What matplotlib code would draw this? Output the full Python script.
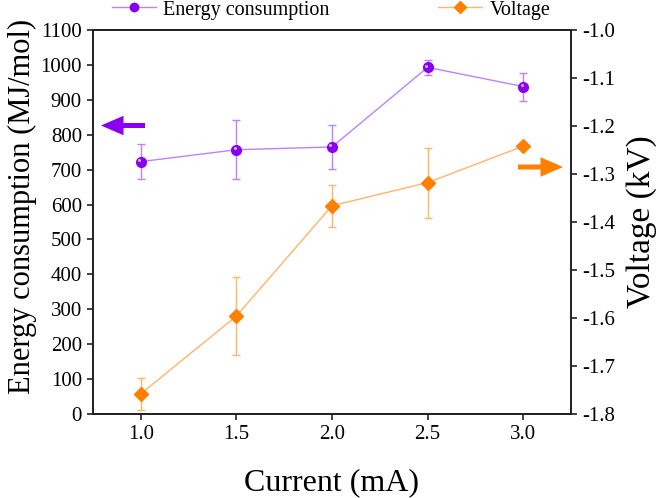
import matplotlib
matplotlib.use("Agg")
import matplotlib.pyplot as plt
from matplotlib.lines import Line2D
from matplotlib.transforms import ScaledTranslation

plt.rcParams['font.family'] = ['Liberation Serif', 'DejaVu Serif']

current = [1.0, 1.5, 2.0, 2.5, 3.0]
energy = [723, 757, 765, 993, 938]
energy_err = [50, 85, 62, 22, 40]
voltage = [-1.758, -1.596, -1.366, -1.318, -1.242]
voltage_err = [0.033, 0.081, 0.044, 0.073, 0.0]

xticks = [1.0, 1.5, 2.0, 2.5, 3.0]
lyticks = list(range(0, 1101, 100))
ryticks = [-1.0, -1.1, -1.2, -1.3, -1.4, -1.5, -1.6, -1.7, -1.8]

purple = '#8A00F0'
purple_l = '#BF80FF'
orange = '#FF8000'
orange_l = '#FFB566'

fig = plt.figure(figsize=(6.61, 4.98), dpi=100)
ax = fig.add_axes([93/661, 1-414/498, (571-93)/661, (414-30)/498])
ax2 = ax.twinx()

ax.errorbar(current, energy, yerr=energy_err, color=purple_l, lw=1.0,
            marker='o', ms=7, mfc=purple, mec=purple, ecolor=purple_l,
            elinewidth=1.0, capsize=3, capthick=1.0, zorder=3)
# small highlight on the ball markers
hl = ax.transData + ScaledTranslation(-1.2/72, 1.2/72, fig.dpi_scale_trans)
ax.plot(current, energy, 'o', ms=2.2, color='#D9A6FF', mec='none',
        transform=hl, zorder=4)
ax2.errorbar(current, voltage, yerr=voltage_err, color=orange_l, lw=1.0,
             marker='D', ms=7.5, mfc=orange, mec=orange, ecolor=orange_l,
             elinewidth=1.0, capsize=3, capthick=1.0, zorder=3)

ax.set_xlim(0.75, 3.25)
ax.set_ylim(0, 1100)
ax2.set_ylim(-1.8, -1.0)
ax.set_xticks(xticks)
ax.set_xticklabels([f'{v:.1f}' for v in xticks])
ax.set_yticks(lyticks)
ax2.set_yticks(ryticks)
ax2.set_yticklabels([f'{v:.1f}' for v in ryticks])

for a in (ax, ax2):
    a.tick_params(direction='out', length=4.5, width=1.2, labelsize=15,
                  pad=3.5, color='#222222')
    for s in a.spines.values():
        s.set_linewidth(1.3)
        s.set_color('#222222')

ax.set_xlabel('Current (mA)', fontsize=23, labelpad=17)
ax.set_ylabel('Energy consumption (MJ/mol)', fontsize=22)
ax.yaxis.set_label_coords(-0.118, 0.54)
ax2.set_ylabel('Voltage (kV)', fontsize=24, labelpad=8)

# direction arrows
arrow_style = 'simple,head_length=0.9,head_width=0.78,tail_width=0.2'
ax.annotate('', xy=(101/661, 1-125.5/498), xytext=(145/661, 1-125.5/498),
            xycoords='figure fraction', textcoords='figure fraction',
            arrowprops=dict(arrowstyle=arrow_style, mutation_scale=18,
                            fc=purple, ec='none', lw=0, shrinkA=0, shrinkB=0))
ax.annotate('', xy=(563/661, 1-167/498), xytext=(518/661, 1-167/498),
            xycoords='figure fraction', textcoords='figure fraction',
            arrowprops=dict(arrowstyle=arrow_style, mutation_scale=18,
                            fc=orange, ec='none', lw=0, shrinkA=0, shrinkB=0))

h1 = Line2D([], [], color=purple_l, lw=1.0, marker='o', ms=6, mfc=purple, mec=purple)
h2 = Line2D([], [], color=orange_l, lw=1.0, marker='D', ms=6.5, mfc=orange, mec=orange)
fig.legend([h1], ['Energy consumption'], loc='center left',
           bbox_to_anchor=(112/661, 1-10/498), frameon=False, fontsize=14.5,
           handlelength=2.2, handletextpad=0.35, borderaxespad=0, borderpad=0)
fig.legend([h2], ['Voltage'], loc='center left',
           bbox_to_anchor=(438/661, 1-10/498), frameon=False, fontsize=14.5,
           handlelength=2.2, handletextpad=0.35, borderaxespad=0, borderpad=0)

fig.savefig('out.png', dpi=100)
